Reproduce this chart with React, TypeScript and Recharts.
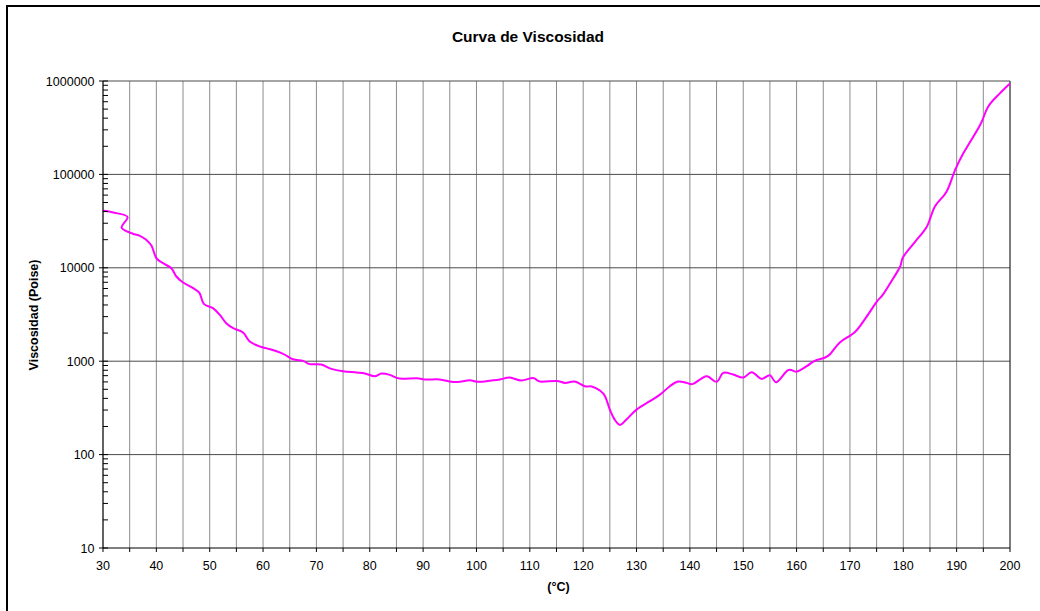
import { LineChart, Line, XAxis, YAxis, CartesianGrid, ReferenceLine } from "recharts";

const temps = [
  30, 32.5, 34.6, 33.5, 35.5, 36.9, 38.1, 39.1, 40, 41.25, 42.8, 43.75, 45, 46.9, 48.1, 48.9,
  50.6, 51.9, 53.1, 54.4, 56.25, 57.5, 59.4, 61.25, 63.75, 65.6, 67.5, 68.75, 70.9, 72.8, 75,
  77.5, 79.1, 80.9, 82.2, 83.75, 85.6, 88.75, 90.6, 93.1, 95.3, 96.9, 98.75, 100.3, 102.8,
  104.4, 106.25, 108.4, 110.6, 111.9, 115, 116.6, 118.4, 120.3, 121.6, 123.1, 124.1, 125,
  125.9, 126.9, 128.1, 130, 132.5, 134.4, 136.25, 137.8, 139.4, 140.6, 143.1, 145, 146.25,
  148.1, 150, 151.6, 153.4, 155, 156.25, 158.4, 160, 161.9, 163.4, 165.9, 168.1, 171, 173.1,
  175, 176.25, 178.1, 179.4, 180, 182.2, 184.4, 185.9, 188.1, 189.7, 191.25, 194.4, 195.9,
  198.1, 200,
];

const viscosity = [
  41000, 38500, 35000, 26800, 23300, 22000, 19950, 17200, 12700, 11200, 9900, 8070, 6960, 6050,
  5350, 4110, 3700, 3130, 2550, 2260, 2030, 1625, 1436, 1345, 1200, 1050, 1008, 930, 921, 828,
  781, 757, 738, 690, 738, 714, 652, 657, 637, 637, 601, 601, 625, 601, 621, 637, 668, 621, 662,
  605, 615, 586, 605, 540, 536, 487, 422, 303, 237, 208, 237, 303, 373, 439, 540, 605, 586, 572,
  690, 601, 750, 720, 668, 762, 647, 708, 596, 801, 774, 884, 1010, 1140, 1590, 2070, 2985, 4320,
  5220, 7690, 10250, 13100, 19000, 27500, 45100, 65200, 111000, 168000, 338000, 531000, 738000,
  944000,
];

const xTicks = [
  30, 35, 40, 45, 50, 55, 60, 65, 70, 75, 80, 85, 90, 95, 100, 105, 110, 115, 120, 125, 130, 135,
  140, 145, 150, 155, 160, 165, 170, 175, 180, 185, 190, 195, 200,
];

const decades = [10, 100, 1000, 10000, 100000, 1000000];
const yTicks = decades.flatMap((d) =>
  d === 1000000 ? [d] : [1, 2, 3, 4, 5, 6, 7, 8, 9].map((m) => m * d)
);

const data = temps.map((t, i) => ({ t, v: viscosity[i] }));

// smooth line like the spreadsheet one (catmull-rom through the points)
function smoothCurve(context: any) {
  let pts: number[][] = [];
  return {
    areaStart() {},
    areaEnd() {},
    lineStart() {
      pts = [];
    },
    point(x: number, y: number) {
      pts.push([+x, +y]);
    },
    lineEnd() {
      const n = pts.length;
      if (!n) return;
      context.moveTo(pts[0][0], pts[0][1]);
      if (n === 2) {
        context.lineTo(pts[1][0], pts[1][1]);
        return;
      }
      for (let i = 0; i < n - 1; i++) {
        const p0 = pts[Math.max(i - 1, 0)];
        const p1 = pts[i];
        const p2 = pts[i + 1];
        const p3 = pts[Math.min(i + 2, n - 1)];
        context.bezierCurveTo(
          p1[0] + (p2[0] - p0[0]) / 6,
          p1[1] + (p2[1] - p0[1]) / 6,
          p2[0] - (p3[0] - p1[0]) / 6,
          p2[1] - (p3[1] - p1[1]) / 6,
          p2[0],
          p2[1]
        );
      }
    },
  };
}

function YTick(props: any) {
  const { x, y, payload } = props;
  const major = decades.includes(payload.value);
  return (
    <g>
      <line x1={major ? x - 4 : x} x2={x + 5} y1={y} y2={y} stroke="#000" />
      {major && (
        <text x={x - 8.5} y={y} dy={4.5} textAnchor="end" fontSize={12.5} fill="#000">
          {payload.value}
        </text>
      )}
    </g>
  );
}

export default function App() {
  return (
    <div
      style={{
        position: "absolute",
        left: 0,
        top: 0,
        width: 1040,
        height: 611,
        overflow: "hidden",
        background: "#fff",
        fontFamily: "'Liberation Sans', Arial, sans-serif",
      }}
    >
      <div
        style={{
          position: "absolute",
          left: 6,
          top: 5,
          width: 1100,
          height: 700,
          border: "2px solid #000",
        }}
      />
      <div style={{ position: "absolute", left: 0, top: 0 }}>
        <LineChart
          width={1040}
          height={611}
          data={data}
          margin={{ top: 81, right: 30, bottom: 33, left: 43 }}
        >
          <CartesianGrid horizontal={false} stroke="#8c8c8c" />
          <XAxis
            type="number"
            dataKey="t"
            domain={[30, 200]}
            ticks={xTicks}
            interval={0}
            height={30}
            tickSize={4}
            tickMargin={9}
            stroke="#000"
            tick={{ fill: "#000", fontSize: 12.5 }}
            tickFormatter={(v: number) => (v % 10 === 0 ? String(v) : "")}
          />
          <YAxis
            type="number"
            scale="log"
            domain={[10, 1000000]}
            ticks={yTicks}
            interval={0}
            width={60}
            tickSize={0}
            tickMargin={0}
            tickLine={false}
            stroke="#000"
            tick={<YTick />}
          />
          {decades.slice(1).map((d) => (
            <ReferenceLine key={d} y={d} stroke="#4a4a4a" />
          ))}
          <ReferenceLine x={200} stroke="#333" />
          <Line
            dataKey="v"
            type={smoothCurve as any}
            stroke="#ff00ff"
            strokeWidth={2}
            dot={false}
            isAnimationActive={false}
          />
        </LineChart>
      </div>
      <svg
        width={1040}
        height={611}
        style={{ position: "absolute", left: 0, top: 0, pointerEvents: "none" }}
      >
        <text x={528} y={41.5} textAnchor="middle" fontSize={15.5} fontWeight="bold" fill="#000">
          Curva de Viscosidad
        </text>
        <text
          transform="translate(37.5,315) rotate(-90)"
          textAnchor="middle"
          fontSize={12.5}
          fontWeight="bold"
          fill="#000"
        >
          Viscosidad (Poise)
        </text>
        <text x={558.5} y={591} textAnchor="middle" fontSize={12.5} fontWeight="bold" fill="#000">
          (°C)
        </text>
      </svg>
    </div>
  );
}
